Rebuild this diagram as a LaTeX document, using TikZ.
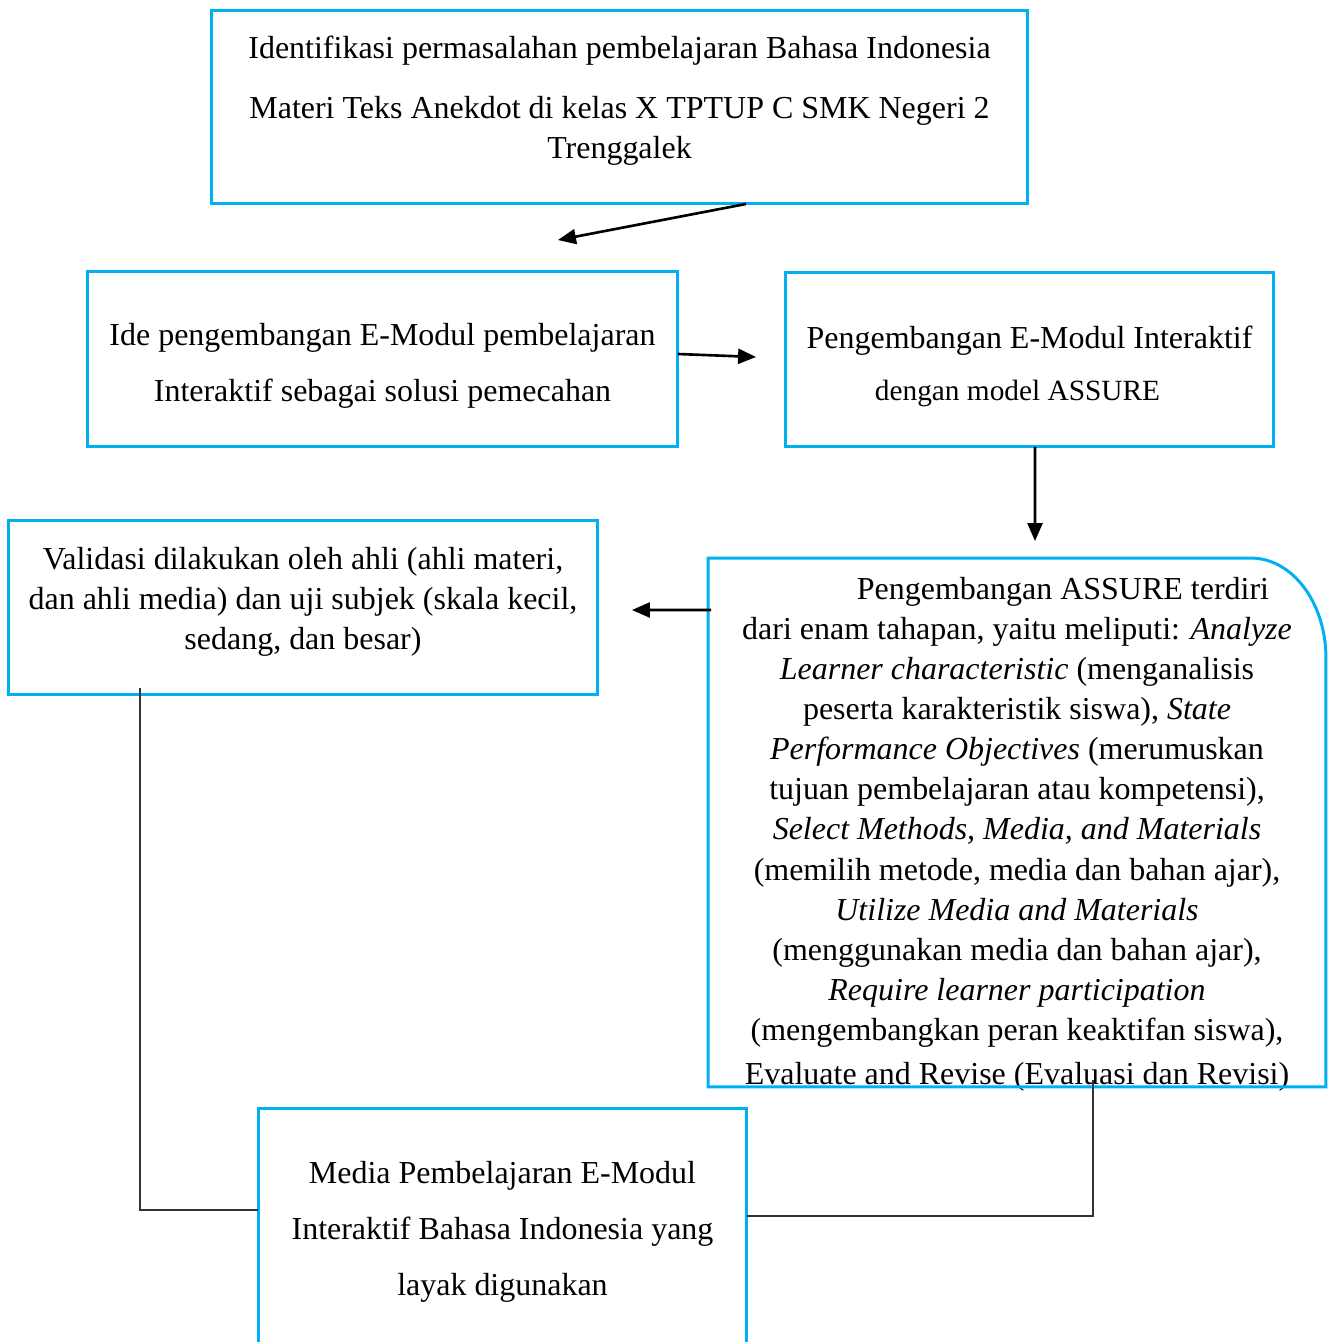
\documentclass[tikz,border=0pt]{standalone}
\usepackage{fontspec}
\setmainfont{Liberation Serif}
\usetikzlibrary{arrows.meta}
\usetikzlibrary{positioning}

\definecolor{boxblue}{RGB}{0,176,240}

\tikzset{
  box/.style={draw=boxblue, line width=1.7pt, align=center, inner sep=0pt, outer sep=0pt},
  frame/.style={box, draw=none},
  boxline/.style={draw=boxblue, line width=1.7pt},
  arrow/.style={-{Triangle[length=0.36cm,width=0.3cm]}, line width=1.5pt},
  link/.style={line width=0.7pt, draw=black!80},
}

\begin{document}
\begin{tikzpicture}[x=0.02cm, y=-0.02cm, font=\fontsize{18.2}{22.8}\selectfont]
\useasboundingbox (0,0) rectangle (1328,1342);

\node[box, minimum width=16.34cm, minimum height=3.88cm] (ident) at (619.5,107)
  {Identifikasi permasalahan pembelajaran Bahasa Indonesia\\[0.4cm]
   Materi Teks Anekdot di kelas X TPTUP C SMK Negeri 2\\
   Trenggalek\rule[-0.4cm]{0pt}{0pt}};

\node[box, minimum width=11.82cm, minimum height=3.52cm] (ide) at (382.5,359)
  {\rule{0pt}{20.5pt}Ide pengembangan E-Modul pembelajaran\\[0.32cm]
   Interaktif sebagai solusi pemecahan};

\node[box, minimum width=9.78cm, minimum height=3.5cm] (dev) at (1029.5,359.5)
  {\rule{0pt}{20.5pt}Pengembangan E-Modul Interaktif\\[0.24cm]
   {\fontsize{16.7}{20}\selectfont dengan model ASSURE}\hspace*{0.48cm}};

\node[box, minimum width=11.8cm, minimum height=3.5cm] (valid) at (303,607.5)
  {Validasi dilakukan oleh ahli (ahli materi,\\
   dan ahli media) dan uji subjek (skala kecil,\\
   sedang, dan besar)\rule[-0.38cm]{0pt}{0pt}};

% box with one round corner, outline drawn below; the text runs over its bottom edge
\node[frame, inner ysep=-0.2cm, minimum width=12.36cm, minimum height=10.58cm] (assure) at (1017,822.5)
  {\rule{0pt}{26pt}\hspace*{1.84cm}Pengembangan ASSURE terdiri\\
   dari enam tahapan, yaitu meliputi: \textit{Analyze}\\
   \textit{Learner characteristic} (menganalisis\\
   peserta karakteristik siswa), \textit{State}\\
   \textit{Performance Objectives} (merumuskan\\
   tujuan pembelajaran atau kompetensi),\\
   \textit{Select Methods, Media, and Materials}\\
   (memilih metode, media dan bahan ajar),\\
   \textit{Utilize Media and Materials}\\
   (menggunakan media dan bahan ajar),\\
   \textit{Require learner participation}\\
   (mengembangkan peran keaktifan siswa),\\[0.08cm]
   Evaluate and Revise (Evaluasi dan Revisi)};
\draw[boxline] (assure.south west) -- (assure.north west)
  -- ([xshift=-1.5cm]assure.north east)
  arc[start angle=90, end angle=0, x radius=1.5cm, y radius=2cm]
  -- (assure.south east) -- cycle;

% open at the bottom
\node[frame, minimum width=9.78cm, minimum height=4.68cm] (media) at (502.5,1225)
  {\rule{0pt}{20.5pt}Media Pembelajaran E-Modul\\[0.32cm]
   Interaktif Bahasa Indonesia yang\\[0.32cm]
   layak digunakan};
\draw[boxline] (media.south west) -- (media.north west)
  -- (media.north east) -- (media.south east);

\draw[arrow] ([xshift=2.53cm]ident.south) -- ([xshift=3.51cm,yshift=0.62cm]ide.north);
\draw[arrow] ([yshift=0.1cm]ide.east) -- ([xshift=-0.58cm,yshift=0.05cm]dev.west);
\draw[arrow] ([xshift=0.11cm]dev.south) -- ([xshift=0.36cm,yshift=0.34cm]assure.north);
\draw[arrow] ([xshift=0.06cm,yshift=-1.04cm]assure.north west) -- ([xshift=0.68cm,yshift=-0.05cm]valid.east);

\draw[link] ([xshift=2.64cm,yshift=0.14cm]valid.south west) |- ([yshift=0.3cm]media.west);
\draw[link] ([xshift=7.7cm,yshift=0.14cm]assure.south west) |- ([yshift=0.18cm]media.east);
\end{tikzpicture}
\end{document}
